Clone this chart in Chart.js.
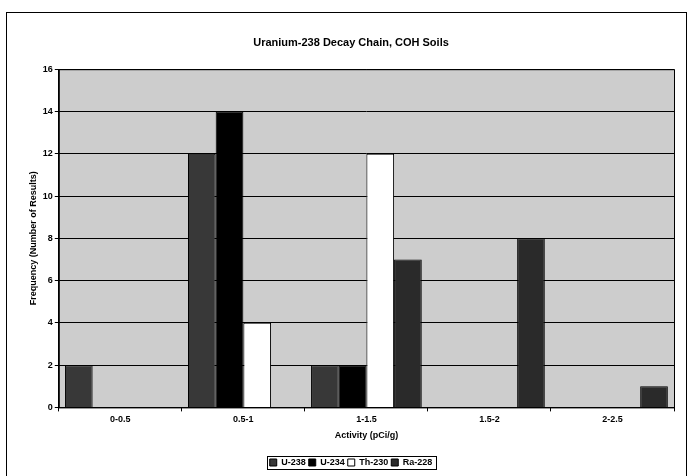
<!DOCTYPE html>
<html>
<head>
<meta charset="utf-8">
<script src="https://cdn.jsdelivr.net/npm/chart.js@4"></script>
<style>
  html, body { margin: 0; padding: 0; background: #fff; overflow: hidden; }
  #wrap { position: absolute; left: 6px; top: 12px; width: 679px; height: 470px; border: 1px solid #000; border-bottom: none; }
  canvas { display: block; }
</style>
</head>
<body>
<div id="wrap"><canvas id="decayChart" width="679" height="464"></canvas></div>
<script>
const categories = ["0-0.5", "0.5-1", "1-1.5", "1.5-2", "2-2.5"];
const u238 = [2, 12, 2, 0, 0];
const u234 = [0, 14, 2, 0, 0];
const th230 = [0, 4, 12, 0, 0];
const ra228 = [0, 0, 7, 8, 1];
const yTicks = [0, 2, 4, 6, 8, 10, 12, 14, 16];

const font = "'Liberation Sans', Arial, sans-serif";

// grey stippled look of the plot area, frame around plot and legend
const plotBg = {
    id: "plotBg",
    beforeDraw(chart) {
        const { ctx, chartArea: a } = chart;
        ctx.save();
        ctx.fillStyle = "#cdcdcd";
        ctx.fillRect(a.left, a.top, a.right - a.left, a.bottom - a.top);
        ctx.restore();
    },
    afterDraw(chart) {
        const { ctx, chartArea: a } = chart;
        ctx.save();
        ctx.strokeStyle = "#000";
        ctx.lineWidth = 1;
        ctx.strokeRect(a.left + 0.5, a.top + 0.5, a.right - a.left, a.bottom - a.top);
        const boxes = chart.legend.legendHitBoxes;
        if (boxes && boxes.length) {
            const x0 = Math.min(...boxes.map(b => b.left)) - 3;
            const x1 = Math.max(...boxes.map(b => b.left + b.width)) + 3;
            const y0 = Math.min(...boxes.map(b => b.top)) - 2;
            const y1 = Math.max(...boxes.map(b => b.top + b.height)) + 2;
            ctx.strokeRect(Math.round(x0) + 0.5, Math.round(y0) + 0.5, Math.round(x1 - x0), Math.round(y1 - y0));
        }
        ctx.restore();
    }
};

document.addEventListener("DOMContentLoaded", () => {
    const ctx = document.getElementById("decayChart").getContext("2d");

    new Chart(ctx, {
        type: "bar",
        data: {
            labels: categories,
            datasets: [
                { label: "U-238", data: u238, backgroundColor: "#383838", borderColor: "#000", borderWidth: 1 },
                { label: "U-234", data: u234, backgroundColor: "#000", borderColor: "#000", borderWidth: 1 },
                { label: "Th-230", data: th230, backgroundColor: "#fff", borderColor: "#000", borderWidth: 1 },
                { label: "Ra-228", data: ra228, backgroundColor: "#2a2a2a", borderColor: "#000", borderWidth: 1 }
            ]
        },
        options: {
            responsive: false,
            animation: false,
            layout: { padding: { left: 21, right: 12, top: 8, bottom: 0 } },
            datasets: { bar: { categoryPercentage: 0.9, barPercentage: 1.0 } },
            plugins: {
                title: {
                    display: true,
                    text: "Uranium-238 Decay Chain, COH Soils",
                    color: "#000",
                    font: { family: font, size: 11, weight: "bold" },
                    padding: { top: 15, bottom: 20 }
                },
                legend: {
                    position: "bottom",
                    labels: {
                        color: "#000",
                        boxWidth: 7,
                        boxHeight: 7,
                        padding: 3,
                        font: { family: font, size: 9, weight: "bold" }
                    }
                },
                tooltip: { enabled: false }
            },
            scales: {
                x: {
                    grid: { display: true, drawOnChartArea: false, color: "#000", tickLength: 4, offset: true },
                    border: { color: "#000" },
                    ticks: { color: "#000", font: { family: font, size: 9, weight: "bold" }, padding: 3 },
                    title: {
                        display: true,
                        text: "Activity (pCi/g)",
                        color: "#000",
                        font: { family: font, size: 9, weight: "bold" },
                        padding: { top: 2, bottom: 14 }
                    }
                },
                y: {
                    min: 0,
                    max: 16,
                    afterBuildTicks(axis) { axis.ticks = yTicks.map(v => ({ value: v })); },
                    grid: { color: "#000", tickLength: 4 },
                    border: { color: "#000" },
                    ticks: { color: "#000", font: { family: font, size: 9, weight: "bold" }, padding: 2 },
                    title: {
                        display: true,
                        text: "Frequency (Number of Results)",
                        color: "#000",
                        font: { family: font, size: 9, weight: "bold" },
                        padding: { top: 0, bottom: 2 }
                    }
                }
            }
        },
        plugins: [plotBg]
    });
});
</script>
</body>
</html>
